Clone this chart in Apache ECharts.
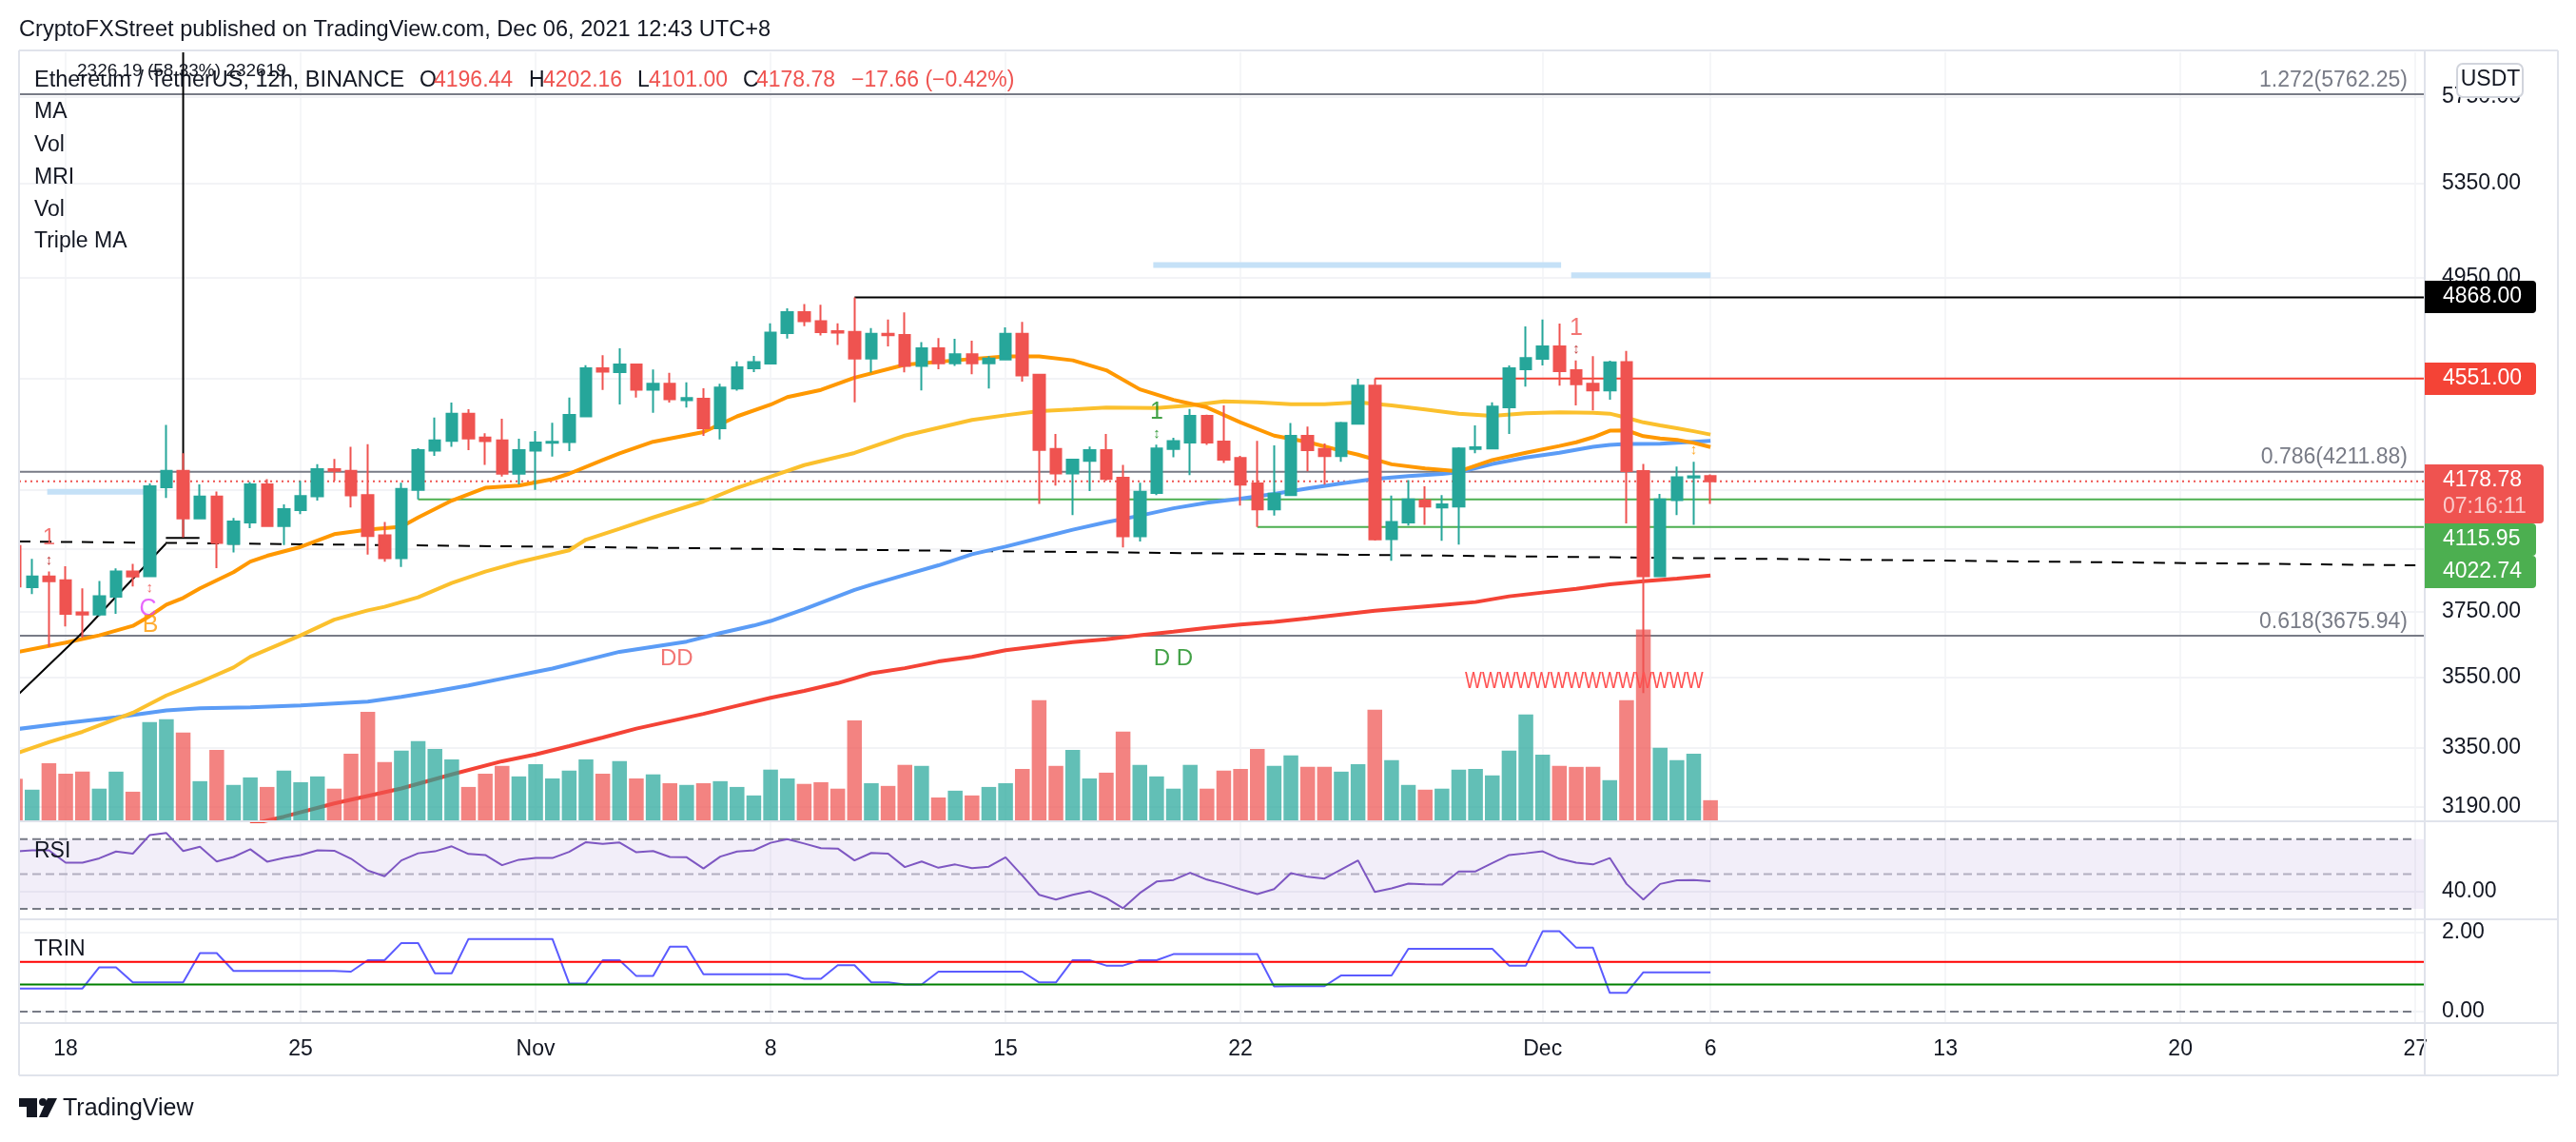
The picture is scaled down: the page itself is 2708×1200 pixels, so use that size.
<!DOCTYPE html>
<html><head><meta charset="utf-8">
<style>html,body{margin:0;padding:0;background:#fff}#c{width:2708px;height:1200px}</style>
<script src="https://cdn.jsdelivr.net/npm/echarts@6/dist/echarts.min.js"></script>
</head><body><div id="c"></div>
<script>
// ---------- data (bar index 0 = 18 Oct 2021 00:00, one bar = 12h) ----------
const firstBar = -3;
const openVals = [3960,3827,3861,3849,3748,3741,3797,3877,3862,4158,4215,4052,4126,3967,4038,4168,4026,4080,4127,4221,4215,4131,3995,3920,4149,4286,4321,4420,4333,4323,4205,4286,4314,4317,4410,4590,4575,4604,4509,4531,4470,4475,4367,4513,4590,4608,4726,4809,4773,4733,4730,4627,4723,4718,4599,4666,4609,4643,4609,4623,4723,4565,4292,4206,4250,4288,4191,3992,4138,4292,4315,4412,4319,4260,4171,4082,4131,4339,4292,4267,4383,4524,3983,4038,4113,4089,4092,4292,4294,4443,4586,4626,4674,4582,4531,4506,4613,4214,3862,4114,4192,4196.44];
const closeVals = [3829,3861,3846,3743,3741,3798,3877,3861,4161,4215,4052,4126,3970,4041,4168,4026,4083,4128,4221,4215,4130,3993,3920,4152,4288,4323,4420,4330,4320,4205,4288,4315,4318,4415,4590,4577,4604,4509,4531,4473,4478,4367,4517,4593,4613,4728,4809,4773,4729,4728,4627,4723,4717,4599,4666,4609,4643,4609,4627,4723,4562,4289,4206,4254,4288,4187,3992,4142,4294,4320,4412,4315,4254,4167,4082,4136,4339,4288,4267,4386,4524,3982,4040,4116,4092,4099,4294,4298,4446,4590,4629,4674,4579,4529,4506,4612,4214,3862,4116,4193,4196,4178.78];
const lowVals = [3829,3805,3642,3704,3670,3736,3743,3829,3861,4121,3988,4049,3888,3939,4019,4026,3963,4066,4112,4180,4089,3932,3909,3892,4115.95,4268,4300,4288,4236,4195,4168,4149,4265,4285,4410,4508,4454,4479,4423,4461,4442,4339,4326,4505,4575,4608,4704,4753,4716,4679,4462,4573,4674,4574,4506,4586,4599,4567,4513,4623,4539,4101,4164,4063,4145,4180,3955,3975,4131,4263,4200,4307,4243,4095,4022.74,4061,4131,4213,4167,4247,4383,3978,3912,4028,4030,3977,3965,4277,4294,4346,4520,4600,4524,4450,4432,4471,4035,3505,3862,4063,4030,4101];
const highVals = [3960,3918,3877,3894,3823,3847,3887,3902,4171,4379,4277,4168,4143,4053,4176,4186,4099,4180,4238,4257,4300,4309,4040,4174,4295,4406,4461,4436,4349,4401,4329,4356,4387,4479,4601,4640,4666,4608,4585,4572,4536,4514,4531,4616,4637,4764,4824,4841,4838,4764,4868,4745,4779,4808,4690,4706,4703,4696,4636,4748,4770,4565,4346,4257,4301,4346,4236,4174,4308,4332,4437,4416,4450,4268,4321,4305,4386,4373,4312,4390,4550,4551,4129,4183,4161,4131,4298,4377,4462,4600,4752,4779,4763,4620,4636,4619,4656,4239,4135,4230,4247,4202.16];
const volumeVals = [125,93,171,140,146,96,146,87,292,300,261,118,210,107,129,101,149,115,132,96,199,322,174,208,236,213,182,101,140,163,132,168,126,149,182,140,177,126,138,112,107,112,118,101,76,152,126,110,115,96,297,112,104,166,163,70,90,76,101,112,154,356,163,210,126,143,264,166,132,96,166,96,149,154,213,163,194,160,160,146,168,328,180,107,93,96,152,154,135,208,314,196,163,160,160,121,356,564,216,180,199,62];
const rsiVals = [62.9,63.6,63.6,56.5,56.5,59.0,62.9,61.7,72.3,73.5,63.2,65.7,57.2,59.8,64.2,57.1,59.2,60.9,63.6,63.4,58.8,52.0,48.7,57.8,61.9,63.0,65.9,61.5,60.9,55.1,58.2,59.2,59.2,62.7,68.3,67.3,68.1,62.5,63.2,59.8,59.6,53.2,60.0,62.9,63.6,67.9,70.0,67.5,64.8,64.6,57.8,62.1,61.7,54.0,57.2,53.6,55.5,53.4,54.2,59.6,49.1,38.1,35.4,38.1,40.2,36.2,30.4,39.1,45.7,46.6,50.7,46.8,44.3,41.2,38.5,41.4,50.5,48.4,47.4,52.6,57.8,39.7,41.8,44.5,44.1,43.9,51.5,51.5,56.3,60.9,61.9,63.0,58.8,56.5,55.5,59.2,44.3,35.4,44.3,46.4,46.6,45.9];
const trinVals = [0.587,0.587,0.587,0.587,0.587,1.122,1.122,0.74,0.74,0.74,0.74,1.48,1.48,1.029,1.029,1.029,1.029,1.029,1.029,1.029,1.012,1.301,1.301,1.735,1.735,0.969,0.969,1.837,1.837,1.837,1.837,1.837,1.837,0.714,0.714,1.301,1.301,0.901,0.901,1.641,1.641,0.944,0.944,0.944,0.944,0.944,0.944,0.833,0.833,1.173,1.173,0.74,0.74,0.689,0.689,1.012,1.012,1.012,1.012,1.012,1.012,0.74,0.74,1.301,1.301,1.165,1.165,1.301,1.301,1.454,1.454,1.454,1.454,1.454,1.454,0.638,0.646,0.646,0.646,0.918,0.918,0.918,0.918,1.59,1.59,1.59,1.59,1.59,1.59,1.165,1.165,2.032,2.032,1.616,1.616,0.476,0.476,0.995,0.995,0.995,0.995,0.995];

const orangeBars = [-3,0,2,4,5,6,7,8,10,11,12,14,16,18,20,21,23,25,27,29,30,32,33,35,38,40,42,43,45,47,50,53,56,58,60,62,64,66,68,70,72,74,76,77,79,81,83,85,87,89,90,91,92,93,94,95,96,97,98];
const orangeVals = [3625,3655,3677,3706,3736,3772,3793,3823,3875,3909,3928,3957,3999,4014,4024,4055,4112,4156,4164,4186,4205,4253,4277,4318,4353,4410,4453,4481,4508,4554,4603,4620,4635,4635,4620,4582,4510,4471,4443,4388,4340,4317,4286,4272,4238,4223,4213,4253,4279,4303,4316,4334,4358,4359,4338,4330,4325,4314,4299];
const yellowBars = [-3,-1,1,4,6,8,10,11,14,16,18,19,21,23,25,27,30,31,33,35,38,40,42,44,47,50,54,56,58,60,62,65,67,69,71,73,75,77,79,81,83,85,87,89,91,92,93,94,95,96,97,98];
const yellowVals = [3333,3365,3394,3448,3498,3537,3580,3612,3677,3725,3754,3765,3795,3840,3877,3907,3946,3981,4017,4055,4109,4156,4195,4235,4278,4340,4397,4414,4429,4435,4442,4441,4450,4465,4462,4455,4455,4462,4450,4435,4420,4412,4421,4425,4423,4420,4405,4388,4377,4367,4356,4344];
const blueBars = [-3,0,3,6,8,11,14,18,20,22,24,26,28,29,31,33,37,39,41,42,44,47,48,50,52,54,56,58,60,62,64,66,68,70,72,74,76,78,80,82,83,85,87,89,91,92,93,95,98];
const blueVals = [3401,3419,3435,3455,3461,3464,3469,3480,3494,3510,3527,3547,3567,3577,3602,3627,3658,3684,3707,3721,3758,3818,3835,3866,3897,3933,3958,3986,4014,4039,4061,4086,4105,4119,4135,4154,4171,4187,4197,4204,4210,4239,4262,4279,4300,4307,4310,4311,4321];
const redBars = [11,13,16,20,23,26,28,30,32,34,36,38,40,42,44,46,48,50,52,54,56,58,60,62,64,66,68,70,72,74,76,78,80,82,84,86,88,90,92,94,96,98];
const redVals = [3143,3163,3198,3238,3276,3312,3331,3354,3378,3403,3424,3445,3468,3491,3511,3534,3563,3578,3598,3612,3632,3644,3656,3665,3677,3688,3700,3710,3718,3729,3741,3753,3762,3771,3780,3798,3810,3822,3836,3846,3854,3864];

const fibLevels = [5762.25, 4211.88, 3675.94];
const fibLabels = ['1.272(5762.25)', '0.786(4211.88)', '0.618(3675.94)'];
const lastPrice = 4178.78;
const resistance = {top: 4868, topFromBar: 47, red: 4551, redFromBar: 78};
const support = {a: 4115.95, aFromBar: 21, b: 4022.74, bFromBar: 71};
const dashedTrendBars = [-2.78, 140];
const dashedTrendVals = [3975, 3897];
const rangeDiagBars = [-2.78, 0.8, 5.97];
const rangeDiagVals = [3503, 3675, 3968];
const rangeFootBars = [5.97, 7.97];
const rangeFootVals = [3987, 3987];
const rangeStemBars = [7, 7];
const rangeStemVals = [5966, 3987];
const lightBars = [
  {bars:[-1.1,4.7], val:4142},
  {bars:[64.8,89.1], val:5000},
  {bars:[89.7,98], val:4958}
];
const chartMarks = [
  [-1, 3987, '1', '#ef5350', 24], [-1, 3912, '↕', '#b71c1c', 15],
  [5, 3824, '↕', '#ef5350', 15], [4.9, 3758, 'C', '#e040fb', 25], [5.05, 3707, 'B', '#ff9800', 25],
  [36.4, 3605, 'DD', '#ef5350', 24], [65, 4426, '1', '#138a18', 25], [65, 4347, '↕', '#138a18', 15],
  [66, 3605, 'D D', '#138a18', 24], [90, 4744, '1', '#ef5350', 25], [90, 4663, '↕', '#b71c1c', 15],
  [97, 4288, '↕', '#ff9800', 15]
];
const priceTicks = [5750,5350,4950,4550,4150,3950,3750,3550,3350,3190];
const priceLabelTicks = [5750,5350,4950,3750,3550,3350,3190];
const tickBars = [0,14,28,42,56,70,88,98,112,126,140];
const tickLabels = ['18','25','Nov','8','15','22','Dec','6','13','20','27'];
const rsiTicks = [40];
const rsiLevels = [70,50,30];
const trinTicks = [2,0];
const trinLevels = {hi:1.258, lo:0.689};

// ---------- helpers ----------
const BAR = 43200000, T0 = Date.UTC(2021,9,18);
const t = k => T0 + k*BAR;
const tickTimes = tickBars.map(t);
const xMin = t(-2.78), xMax = t(140.5);
const pairs = (bars, vals) => bars.map((b,i)=>[t(b), vals[i]]);
const UP='#26a69a', DOWN='#ef5350', FONT='"Liberation Sans", Arial, sans-serif', INK='#131722', GRID='#f2f3f6', SEP='#e0e3eb';

function xAxis(grid, showLabel){
  return {type:'value', gridIndex:grid, min:xMin, max:xMax, scale:true,
    axisLine:{show:false},
    axisTick:{show:false, customValues:tickTimes},
    splitLine:{show:true, lineStyle:{color:GRID,width:1.5}},
    axisLabel:{show:showLabel, customValues:tickTimes, color:INK, fontFamily:FONT, fontSize:23, margin:16, hideOverlap:false,
      showMinLabel:true, showMaxLabel:true,
      formatter:v=>{const i=tickTimes.indexOf(+v); return i<0?'':tickLabels[i];}}};
}
function yAxis(grid, extra, ticks, labels){
  return Object.assign({gridIndex:grid, position:'right', scale:true,
    axisLine:{show:false},
    axisTick:{show:false, customValues:ticks},
    splitLine:{show:true, lineStyle:{color:GRID,width:2}},
    axisLabel:{customValues:labels, color:INK, fontFamily:FONT, fontSize:23, margin:19, align:'left',
      showMinLabel:true, showMaxLabel:true, hideOverlap:false,
      formatter:v=>(+v).toFixed(2)}}, extra);
}
function line(name, data, color, width, opts){
  return Object.assign({name, type:'line', data, symbol:'none', showSymbol:false, silent:true, animation:false,
    xAxisIndex:0, yAxisIndex:0, z:2,
    lineStyle:{color, width, cap:'butt'}, itemStyle:{color}}, opts||{});
}
function hline(name, fromBar, toBar, val, color, width, opts){
  return line(name, [[t(fromBar),val],[t(toBar),val]], color, width, opts);
}
const gtext = (x,y,text,fill,size,align,extra)=>Object.assign({type:'text', x, y, z:50, silent:true,
   style:{text, fill, font:`${size||23}px ${FONT}`, textAlign:align||'left', textVerticalAlign:'middle'}}, extra||{});
const rect = (x,y,w,h,fill,r,z,stroke)=>({type:'rect', z:z||40, silent:true, shape:{x,y,width:w,height:h,r:r||0},
   style:{fill, stroke:stroke||null, lineWidth:stroke?2:0}});
const hsep = (y,x1,x2)=>({type:'line', z:30, silent:true, shape:{x1:x1||20,y1:y,x2:x2||2689,y2:y}, style:{stroke:SEP,lineWidth:2}});
const vsep = (x,y1,y2)=>({type:'line', z:30, silent:true, shape:{x1:x,y1:y1||53,x2:x,y2:y2||1130}, style:{stroke:SEP,lineWidth:2}});

const candleData = openVals.map((o,i)=>[t(firstBar+i), o, closeVals[i], lowVals[i], highVals[i]]);
const volData = volumeVals.map((v,i)=>({value:[t(firstBar+i), v],
   itemStyle:{color: closeVals[i]>=openVals[i] ? 'rgba(38,166,154,0.72)' : 'rgba(239,83,80,0.72)'}}));
const rsiData = rsiVals.map((v,i)=>[t(firstBar+i), v]);
const trinData = trinVals.map((v,i)=>[t(firstBar+i), v]);

const series = [
  ...fibLevels.map((v,i)=>hline('fib'+i,-2.78,140.5,v,'#787b86',2,{z:1})),
  hline('last',-2.78,140.5,lastPrice,'#ef5350',2,{z:1,lineStyle:{color:'#ef5350',width:2,type:[2,4]}}),
  line('trend',pairs(dashedTrendBars,dashedTrendVals),'#000',2,{z:1,lineStyle:{color:'#000',width:2,type:[12,10]}}),
  line('rangeDiag',pairs(rangeDiagBars,rangeDiagVals),'#000',2,{z:3}),
  line('rangeFoot',pairs(rangeFootBars,rangeFootVals),'#000',2,{z:3}),
  line('rangeStem',pairs(rangeStemBars,rangeStemVals),'#000',2,{z:3}),
  ...lightBars.map((b,i)=>hline('zone'+i,b.bars[0],b.bars[1],b.val,'#c5e1f7',6,{z:1})),
  hline('resTop',resistance.topFromBar,140.5,resistance.top,'#000',2,{z:2}),
  hline('resRed',resistance.redFromBar,140.5,resistance.red,'#f44336',2,{z:2}),
  hline('supA',support.aFromBar,140.5,support.a,'#4caf50',2,{z:2}),
  hline('supB',support.bFromBar,140.5,support.b,'#4caf50',2,{z:2}),
  line('red',pairs(redBars,redVals),'#f44336',4),
  line('blue',pairs(blueBars,blueVals),'#5b9cf6',4),
  line('yellow',pairs(yellowBars,yellowVals),'#fbc02d',4),
  line('orange',pairs(orangeBars,orangeVals),'#ff9800',4),
  {name:'Vol', type:'bar', data:volData, xAxisIndex:0, yAxisIndex:1, barWidth:15.5, z:3, silent:true, animation:false, clip:true},
  {name:'ETHUSDT', type:'candlestick', data:candleData, xAxisIndex:0, yAxisIndex:0, barWidth:12, z:5, silent:true, animation:false, clip:true,
   itemStyle:{color:UP, color0:DOWN, borderColor:UP, borderColor0:DOWN, borderWidth:2}},
  {name:'marks', type:'scatter', xAxisIndex:0, yAxisIndex:0, z:6, silent:true, symbolSize:0, animation:false,
   data:chartMarks.map(m=>({value:[t(m[0]),m[1]],
     label:{show:true, position:'inside', formatter:m[2], color:m[3], fontSize:m[4], fontFamily:FONT}}))},
  line('RSI',rsiData,'#7e57c2',2,{xAxisIndex:1,yAxisIndex:2,z:4,
    markArea:{silent:true,itemStyle:{color:'rgba(126,87,194,0.1)'},data:[[{yAxis:rsiLevels[0]},{yAxis:rsiLevels[2]}]]}}),
  hline('rsi70',-2.78,140,rsiLevels[0],'#787b86',2,{xAxisIndex:1,yAxisIndex:2,lineStyle:{color:'#787b86',width:2,type:[9,5]}}),
  hline('rsi50',-2.78,140,rsiLevels[1],'#b2aec0',2,{xAxisIndex:1,yAxisIndex:2,lineStyle:{color:'#b2aec0',width:2,type:[9,5]}}),
  hline('rsi30',-2.78,140,rsiLevels[2],'#787b86',2,{xAxisIndex:1,yAxisIndex:2,lineStyle:{color:'#787b86',width:2,type:[9,5]}}),
  hline('trin0',-2.78,140,0,'#787b86',2,{xAxisIndex:2,yAxisIndex:3,lineStyle:{color:'#787b86',width:2,type:[9,5]}}),
  line('TRIN',trinData,'#5b5bff',2,{xAxisIndex:2,yAxisIndex:3,z:3}),
  hline('trinHi',-2.78,140.5,trinLevels.hi,'#ff0000',2,{xAxisIndex:2,yAxisIndex:3,z:4}),
  hline('trinLo',-2.78,140.5,trinLevels.lo,'#008000',2,{xAxisIndex:2,yAxisIndex:3,z:4})
];

const graphic = [
  rect(0,53,19.5,1080,'#fff',0,29),
  hsep(53), hsep(863), hsep(966), hsep(1075), hsep(1130),
  vsep(20), vsep(2549), vsep(2689),
  gtext(20,31,'CryptoFXStreet published on TradingView.com, Dec 06, 2021 12:43 UTC+8',INK,23.6),
  gtext(36,85,'Ethereum / TetherUS, 12h, BINANCE',INK,23.5),
  gtext(441,85,'O',INK,23), gtext(456,85,'4196.44',DOWN,23),
  gtext(556,85,'H',INK,23), gtext(571,85,'4202.16',DOWN,23),
  gtext(670,85,'L',INK,23), gtext(682,85,'4101.00',DOWN,23),
  gtext(781,85,'C',INK,23), gtext(795,85,'4178.78',DOWN,23),
  gtext(895,85,'−17.66 (−0.42%)',DOWN,23),
  gtext(81,75,'2326.19 (58.33%) 232619',INK,19),
  gtext(36,118,'MA',INK,23), gtext(36,153,'Vol',INK,23), gtext(36,187,'MRI',INK,23),
  gtext(36,221,'Vol',INK,23), gtext(36,254,'Triple MA',INK,23),
  gtext(36,895,'RSI',INK,23), gtext(36,998,'TRIN',INK,23),
  gtext(2531,85,fibLabels[0],'#787b86',23,'right'),
  gtext(2531,481,fibLabels[1],'#787b86',23,'right'),
  gtext(2531,654,fibLabels[2],'#787b86',23,'right'),
  gtext(1540,716,'WWWWWWWWWWWWWW','#ff5252',24,'left',{scaleX:0.79,originX:0,originY:0,z:6}),
  rect(2549,295,117,34,'#000',[0,4,4,0]), gtext(2568,312,'4868.00','#fff',23),
  rect(2549,381,117,34,'#f44336',[0,4,4,0]), gtext(2568,398,'4551.00','#fff',23),
  rect(2549,488,125,62,'#ef5350',[0,4,4,0]), gtext(2568,505,'4178.78','#fff',23), gtext(2568,533,'07:16:11','rgba(255,255,255,0.7)',23),
  rect(2549,550,117,34,'#4caf50',[0,4,4,0]), gtext(2568,567,'4115.95','#fff',23),
  rect(2549,584,117,34,'#4caf50',[0,4,4,0]), gtext(2568,601,'4022.74','#fff',23),
  rect(2583,67,69,35,'#fff',6,45,'#d1d4dc'), gtext(2618,84,'USDT',INK,23,'center'),
  {type:'polygon',z:40,silent:true,shape:{points:[[20,1154],[39,1154],[39,1174],[28,1174],[28,1163],[20,1163]]},style:{fill:INK}},
  {type:'circle',z:40,silent:true,shape:{cx:45,cy:1158,r:4},style:{fill:INK}},
  {type:'polygon',z:40,silent:true,shape:{points:[[50,1154],[60,1154],[50,1174],[41,1174]]},style:{fill:INK}},
  gtext(66,1165,'TradingView',INK,25)
];

const chart = echarts.init(document.getElementById('c'), null, {renderer:'canvas', width:2708, height:1200});
chart.setOption({
  animation:false, backgroundColor:'#fff',
  grid:[
    {left:20, right:160, top:55, height:808},
    {left:20, right:160, top:864, height:102},
    {left:20, right:160, top:967, height:108}
  ],
  xAxis:[xAxis(0,false), xAxis(1,false), xAxis(2,true)],
  yAxis:[
    yAxis(0,{type:'log',logBase:10,min:3151,max:5966},priceTicks,priceLabelTicks),
    {type:'value',gridIndex:0,min:0,max:2262,show:false},
    yAxis(1,{type:'value',min:24.05,max:79.7},rsiTicks,rsiTicks),
    yAxis(2,{type:'value',min:-0.286,max:2.31},trinTicks,trinTicks)
  ],
  series, graphic
});
</script></body></html>
